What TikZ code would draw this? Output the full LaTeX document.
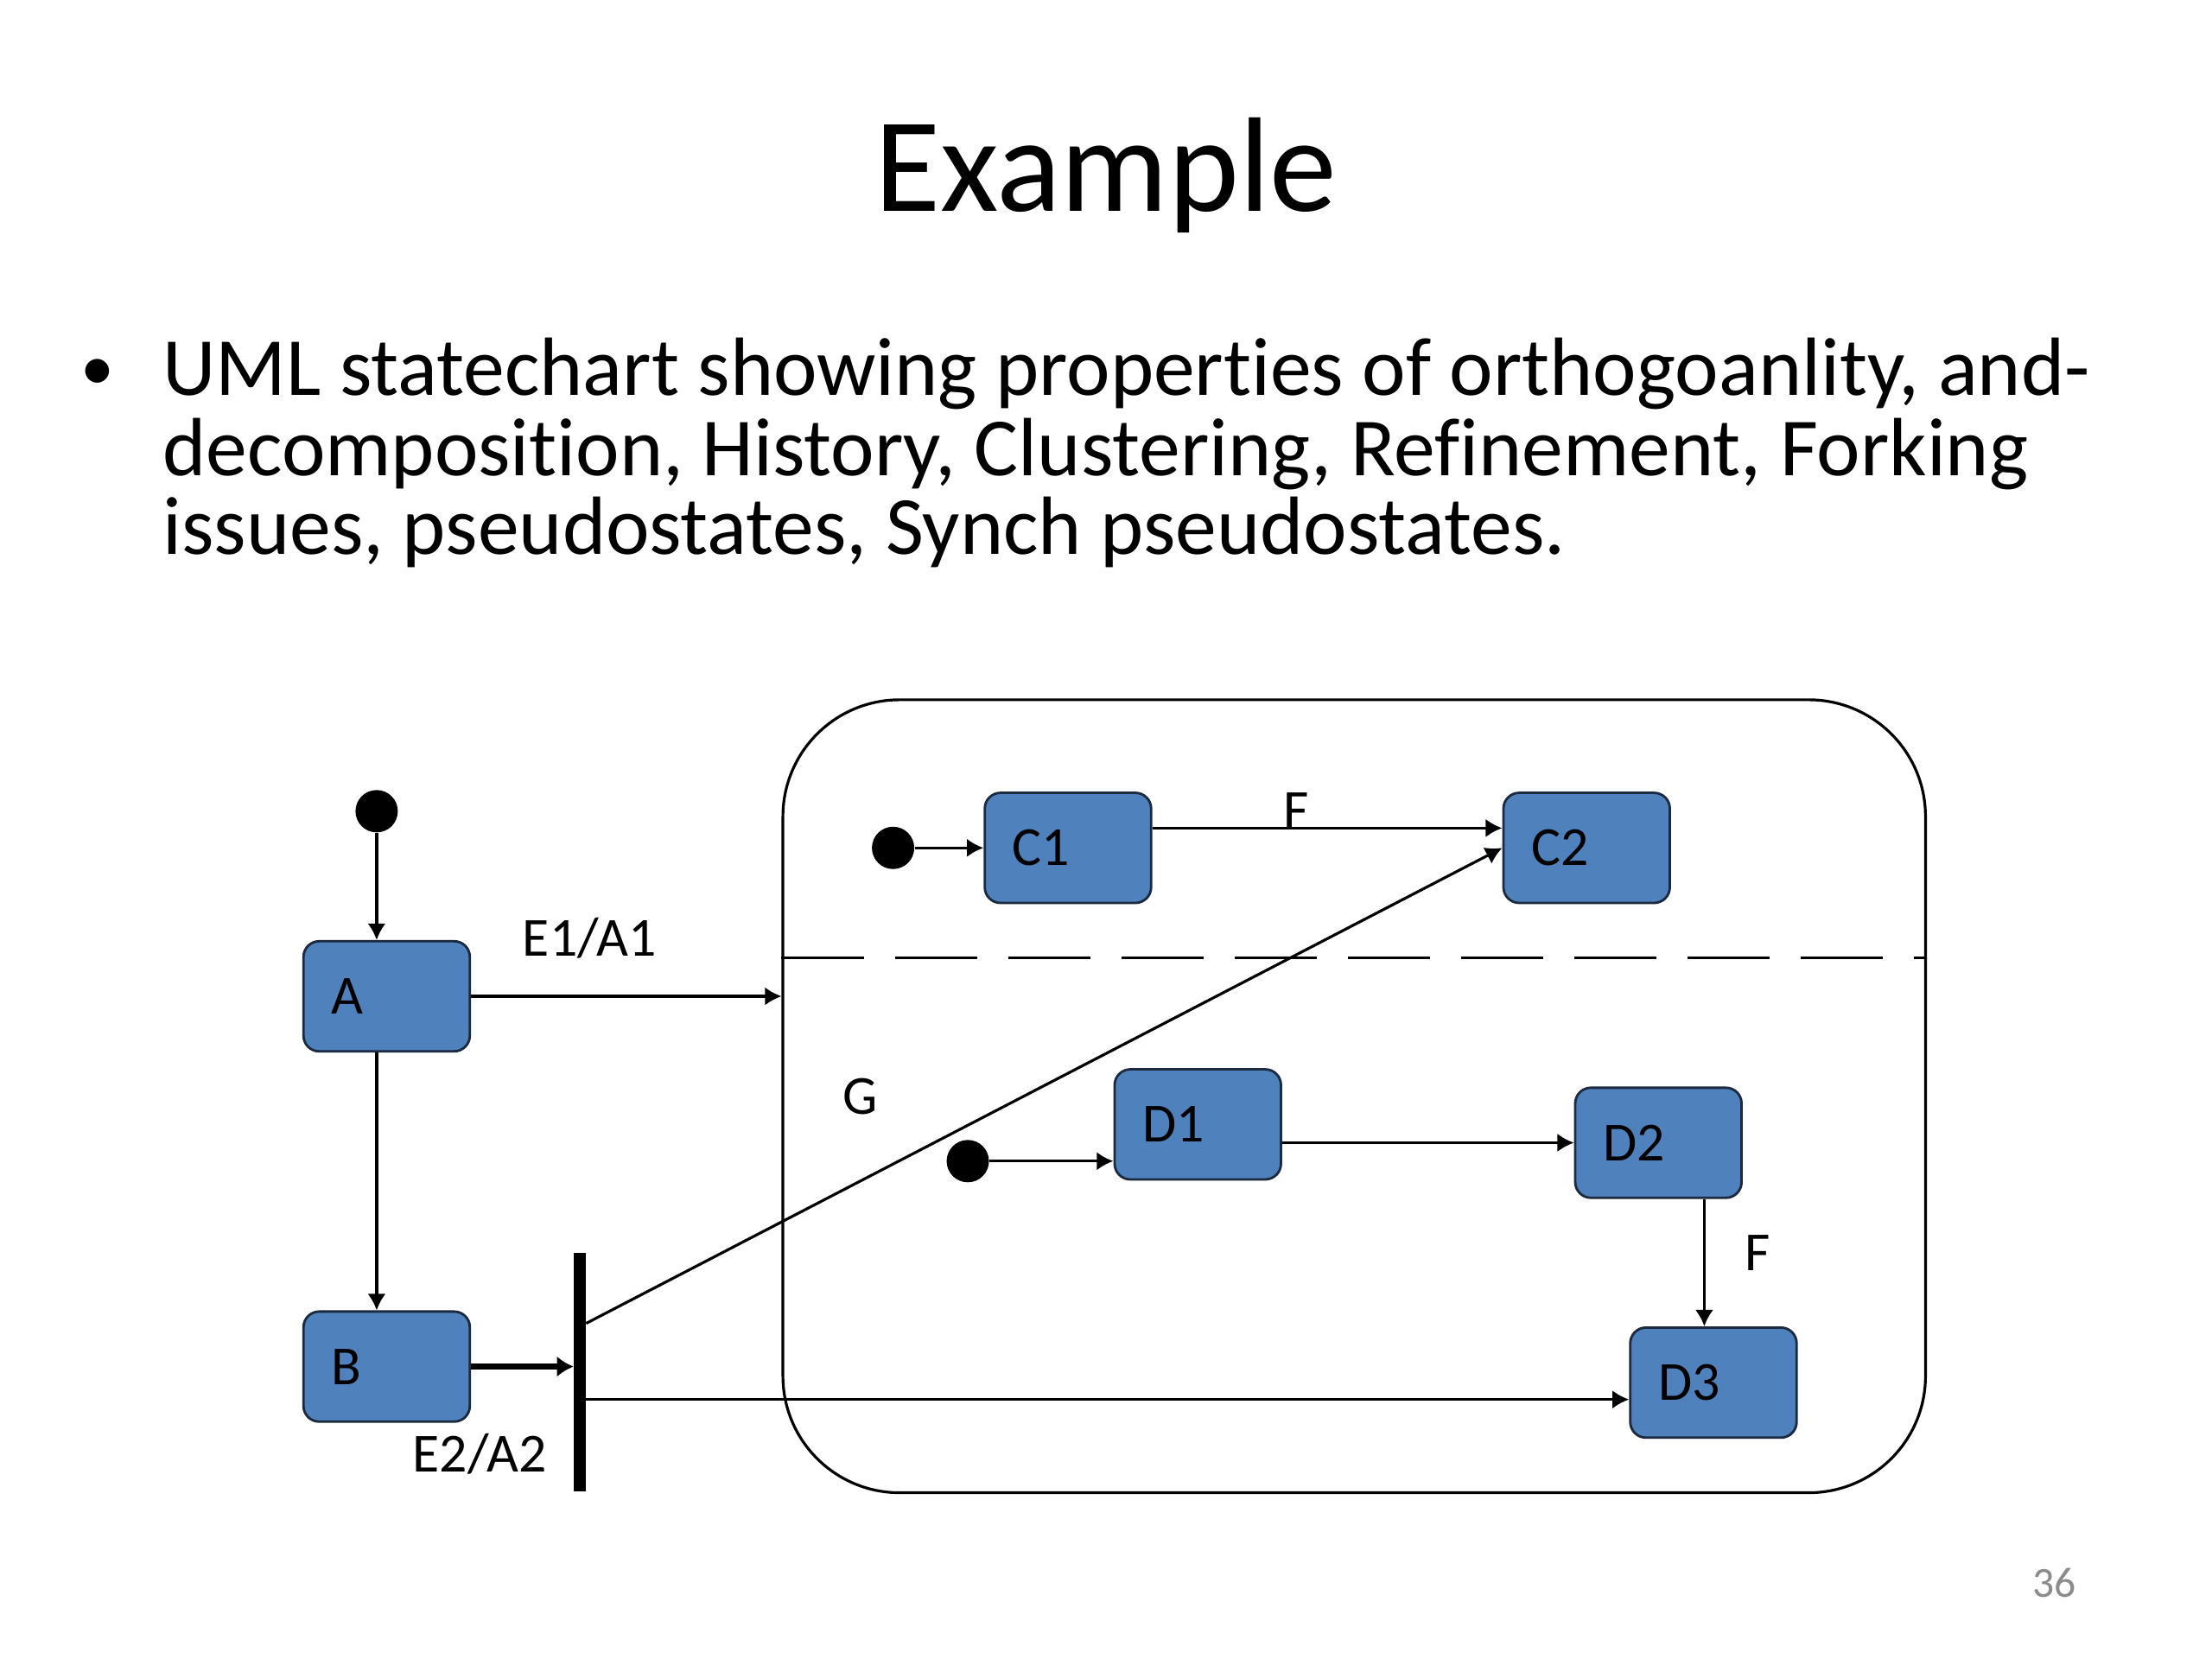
\documentclass[tikz,border=0pt]{standalone}
\usepackage{fontspec}
\setmainfont{Carlito}[RawFeature=-liga]
\usepackage{xcolor}
\usetikzlibrary{arrows.meta, positioning, calc}
\definecolor{stateblue}{HTML}{4F81BD}
\definecolor{stateline}{HTML}{1C2A40}
\definecolor{pagegray}{HTML}{8B8B8B}

\begin{document}
\begin{tikzpicture}[
        statebox/.style={rectangle, draw=stateline, line width=0.8pt, fill=stateblue, rounded corners=0.18cm, minimum width=1.91cm, minimum height=1.264cm, text width=1.27cm, inner xsep=0.32cm, align=left, font=\fontsize{18}{21}\selectfont},
        startdot/.style={circle, fill=black, minimum size=0.486cm, inner sep=0pt},
        arrow/.style={-{Latex[length=1.9mm, width=2.1mm]}, line width=0.9pt},
        thickflow/.style={-{Latex[length=1.9mm, width=2.4mm]}, line width=2pt},
        lbl/.style={font=\fontsize{18}{21}\selectfont, inner sep=0pt, anchor=base},
        bodytext/.style={font=\fontsize{27}{26}\selectfont, inner sep=0pt, anchor=base west}
    ]
    \useasboundingbox (0,0) rectangle (25.4,-19.05);

    % Slide text
    \node (title) [anchor=base, inner sep=0pt, font=\fontsize{44}{50}\selectfont] at (12.7,-2.43) {Example};
    \node (bullet) [bodytext, font=\fontsize{22}{22}\selectfont] at (0.92,-4.48) {•};
    \node (body1) [bodytext] at (1.863,-4.536) {UML statechart showing properties of orthogoanlity, and-};
    \node (body2) [bodytext] at (1.863,-5.459) {decomposition, History, Clustering, Refinement, Forking};
    \node (body3) [bodytext] at (1.863,-6.367) {issues, pseudostates, Synch pseudostates.};
    \node (pagenum) [anchor=base east, inner sep=0pt, text=pagegray, font=\fontsize{14}{16}\selectfont] at (23.846,-18.338) {36};

    % Left states
    \node (init1) [startdot] at (4.325,-9.315) {};
    \node (A) [statebox] at (4.44,-11.44) {A};
    \node (B) [statebox, below=2.96cm of A] {B};
    \draw[arrow] (init1) -- (init1 |- A.north);
    \draw[arrow] (A.south -| init1) -- (B.north -| init1);

    % Superstate with two orthogonal regions
    \node (outer) [rectangle, draw, line width=0.9pt, rounded corners=1.34cm, minimum width=13.12cm, minimum height=9.105cm] at (15.55,-12.588) {};
    \coordinate (split) at (0,-11.0);
    \draw[line width=0.9pt, dash pattern=on 0.95cm off 0.35cm] (outer.west |- split) -- (outer.east |- split);
    \draw[arrow] (A.east) -- node (lblE1) [lbl, pos=0.382, yshift=0.46cm] {E1/A1} (A.east -| outer.west);

    % Upper region
    \node (init2) [startdot] at (10.255,-9.736) {};
    \node (C1) [statebox] at (12.263,-9.736) {C1};
    \node (C2) [statebox, right=4.018cm of C1] {C2};
    \draw[arrow] (init2) -- (C1);
    \draw[arrow] ([yshift=0.227cm]C1.east) -- node (lblF1) [lbl, pos=0.41] {F} ([yshift=0.227cm]C2.west);

    % Lower region
    \node (init3) [startdot] at (11.113,-13.333) {};
    \node (D1) [statebox] at (13.754,-12.911) {D1};
    \node (D2) [statebox] at (19.043,-13.122) {D2};
    \node (D3) [statebox] at (19.675,-15.876) {D3};
    \draw[arrow] (init3) -- (init3 -| D1.west);
    \draw[arrow] (D1.east |- D2) -- (D2.west);
    \coordinate (D2out) at (19.57,0);
    \draw[arrow] (D2.south -| D2out) -- node (lblF2) [pos=0.42, right=0.45cm, inner sep=0pt, font=\fontsize{18}{21}\selectfont] {F} (D3.north -| D2out);

    % Fork
    \node (fork) [rectangle, fill=black, minimum width=0.13cm, minimum height=2.738cm, inner sep=0pt] at (6.658,-15.755) {};
    \draw[thickflow] (B.east) -- (B.east -| fork.west);
    \node (lblE2) [lbl] at (5.508,-16.897) {E2/A2};
    \draw[arrow] ($(fork.east)+(0,0.559)$) -- (C2.west);
    \node (lblG) [lbl] at (9.882,-12.798) {G};
    \coordinate (D3in) at ($(D3.west)+(0,-0.194)$);
    \draw[arrow] (fork.east |- D3in) -- (D3in);
\end{tikzpicture}
\end{document}
